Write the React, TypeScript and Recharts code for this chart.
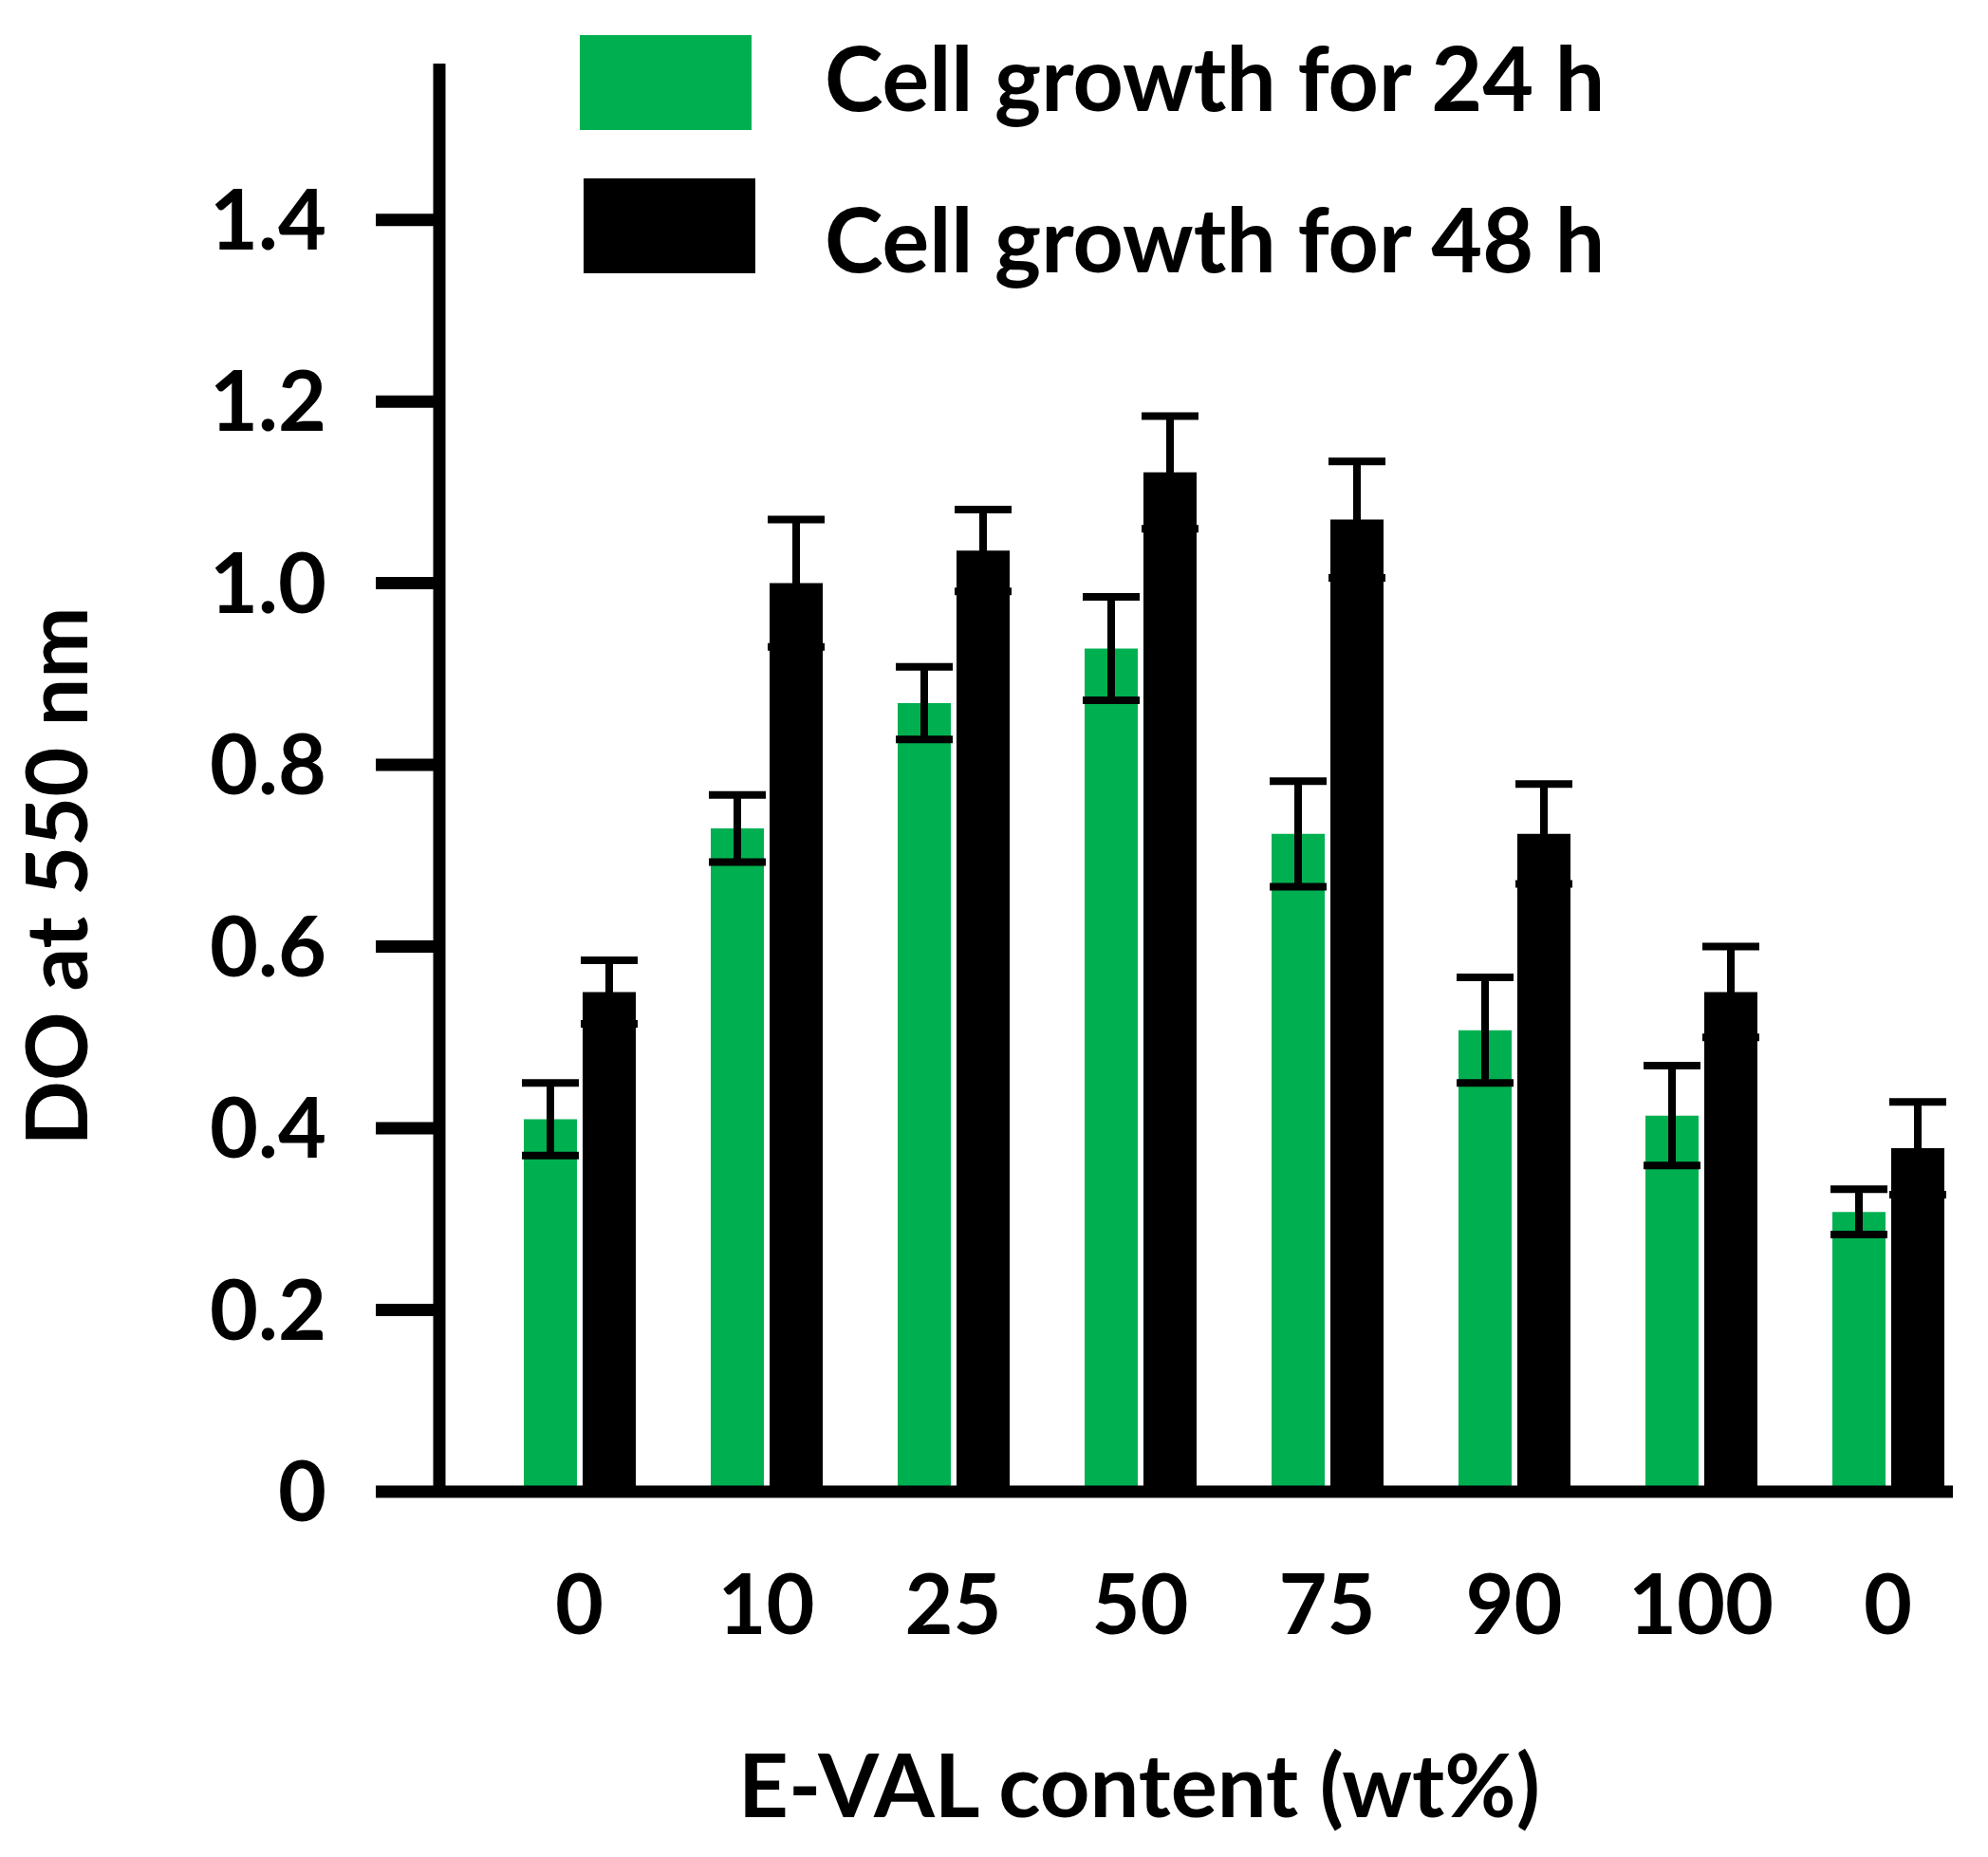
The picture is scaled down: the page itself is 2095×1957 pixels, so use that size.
import React from "react";
import { BarChart, Bar, XAxis, YAxis, ErrorBar, Legend, Label } from "recharts";

// E-VAL content (wt%) categories, as printed under the bars
const contents = ["0", "10", "25", "50", "75", "90", "100", "0"];

// DO at 550 nm
const growth24h = [0.41, 0.73, 0.868, 0.928, 0.724, 0.508, 0.414, 0.308];
const growth24hErr = [0.04, 0.037, 0.04, 0.057, 0.058, 0.058, 0.055, 0.025];
const growth48h = [0.55, 1.0, 1.036, 1.122, 1.07, 0.724, 0.55, 0.378];
const growth48hErr = [0.035, 0.07, 0.045, 0.062, 0.064, 0.055, 0.05, 0.051];

const yTicks = [0, 0.2, 0.4, 0.6, 0.8, 1.0, 1.2, 1.4];

const GREEN = "#00b050";
const FONT = "Lato, 'Open Sans', sans-serif";

const chartData = contents.map((content, i) => ({
  content,
  h24: growth24h[i],
  h24Err: growth24hErr[i],
  h48: growth48h[i],
  h48Err: growth48hErr[i],
}));

const legendItems = [
  { label: "Cell growth for 24 h", color: GREEN, boxX: 0, boxY: 20, textY: 100 },
  { label: "Cell growth for 48 h", color: "#000", boxX: 4, boxY: 171, textY: 270 },
];

// legend drawn as a little svg, shifted up 20px so nothing touches its top edge
const renderLegend = () => (
  <svg width={1200} height={310} style={{ display: "block", overflow: "visible" }}>
    {legendItems.map((item) => (
      <g key={item.label}>
        <rect x={item.boxX} y={item.boxY} width={181} height={100} fill={item.color} />
        <text
          x={258}
          y={item.textY}
          fontFamily={FONT}
          fontWeight={700}
          fontSize={93}
          fill="#000"
        >
          {item.label}
        </text>
      </g>
    ))}
  </svg>
);

const formatY = (v: number) => (v === 0 ? "0" : v.toFixed(1));

const tickStyle = {
  fontFamily: FONT,
  fontWeight: 700,
  fontSize: 88,
  fill: "#000",
};

const YTitle = (props: any) => {
  const { x, y, height } = props.viewBox;
  const cx = x + 92;
  const cy = y + height / 2 + 104;
  return (
    <text
      x={cx}
      y={cy}
      transform={`rotate(-90, ${cx}, ${cy})`}
      textAnchor="middle"
      fontFamily={FONT}
      fontWeight={700}
      fontSize={90}
      fill="#000"
    >
      DO at 550 nm
    </text>
  );
};

const XTitle = (props: any) => {
  const { x, y, width } = props.viewBox;
  return (
    <text
      x={x + width / 2 - 60}
      y={y + 343}
      textAnchor="middle"
      fontFamily={FONT}
      fontWeight={700}
      fontSize={92}
      fill="#000"
    >
      E-VAL content (wt%)
    </text>
  );
};

const App: React.FC = () => {
  return (
    <div style={{ position: "absolute", left: 0, top: 0, background: "#fff" }}>
      <BarChart
        width={2095}
        height={1957}
        data={chartData}
        margin={{ top: 67, right: 37, bottom: 0, left: 0 }}
        barGap={6}
      >
        <XAxis
          dataKey="content"
          height={385}
          padding={{ left: 49, right: -30 }}
          axisLine={{ stroke: "#000", strokeWidth: 13 }}
          tickLine={false}
          tickSize={0}
          tickMargin={88}
          tick={tickStyle}
          interval={0}
        >
          <Label content={<XTitle />} />
        </XAxis>
        <YAxis
          width={463}
          domain={[0, 1.572]}
          ticks={yTicks}
          tickFormatter={formatY}
          axisLine={{ stroke: "#000", strokeWidth: 13 }}
          tickLine={{ stroke: "#000", strokeWidth: 13 }}
          tickSize={67}
          tickMargin={52}
          tick={tickStyle}
          interval={0}
        >
          <Label content={<YTitle />} />
        </YAxis>
        <Legend
          content={renderLegend}
          layout="horizontal"
          verticalAlign="middle"
          align="center"
          wrapperStyle={{ position: "absolute", left: 611, top: 17, width: 1200, height: 310 }}
        />
        <Bar dataKey="h24" fill={GREEN} barSize={56} isAnimationActive={false}>
          <ErrorBar dataKey="h24Err" width={30} strokeWidth={8} stroke="#000" direction="y" />
        </Bar>
        <Bar dataKey="h48" fill="#000" barSize={56} isAnimationActive={false}>
          <ErrorBar dataKey="h48Err" width={30} strokeWidth={8} stroke="#000" direction="y" />
        </Bar>
      </BarChart>
    </div>
  );
};

export default App;
